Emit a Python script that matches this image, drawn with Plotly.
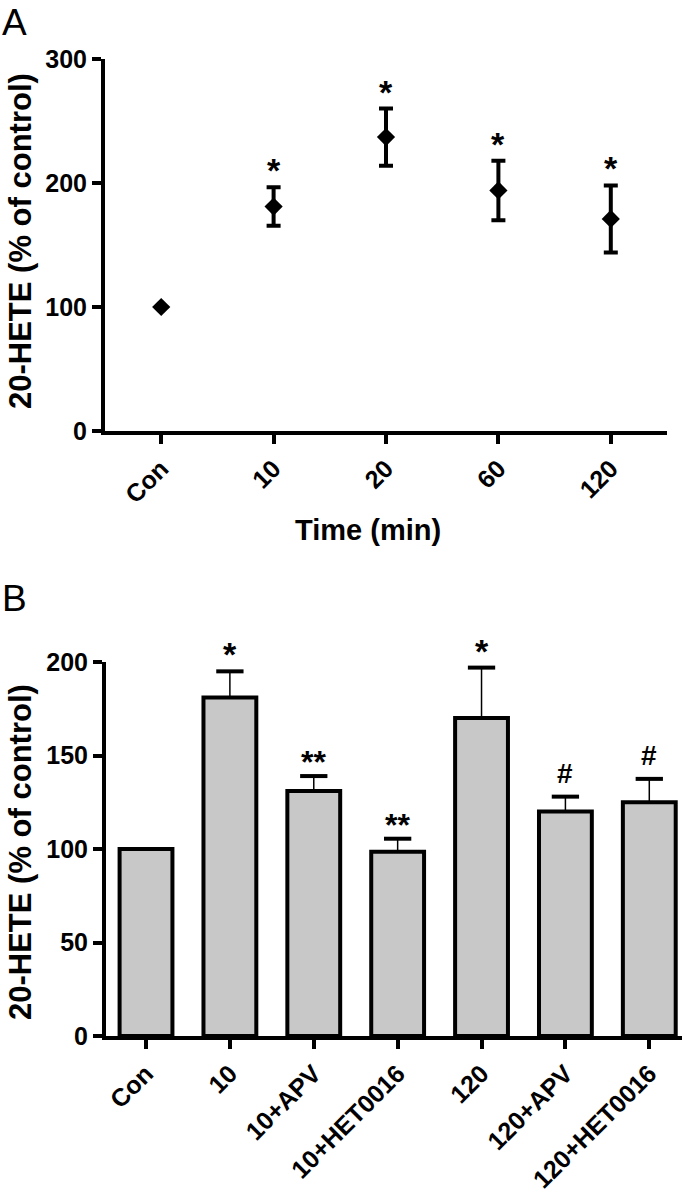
import plotly.graph_objects as go

# ---------------- data ----------------
time_labels = ["Con", "10", "20", "60", "120"]
time_mean = [100, 181, 237, 194, 171]
time_sem = [0, 15.5, 23, 24, 27]
time_sig = ["", "*", "*", "*", "*"]

treat_labels = ["Con", "10", "10+APV", "10+HET0016", "120", "120+APV", "120+HET0016"]
treat_mean = [100, 181, 131, 98.5, 170, 120, 125]
treat_sem = [0, 14, 8, 7, 27, 8, 12.5]
treat_sig = ["", "*", "**", "**", "*", "#", "#"]

yticks_a = [0, 100, 200, 300]
yticks_b = [0, 50, 100, 150, 200]

# ---------------- layout helpers ----------------
W, H = 693, 1199
def fx(x):
    return x / W
def fy(y):
    return 1 - y / H

FONT = "Liberation Sans, Arial, Helvetica, sans-serif"
BLACK = "#000000"
GRAY = "#c8c8c8"

fig = go.Figure()

# Panel A: mean +/- SEM
fig.add_trace(go.Scatter(
    x=time_labels, y=time_mean, mode="markers",
    marker=dict(symbol="diamond", size=14, color=BLACK),
    error_y=dict(type="data", array=time_sem, visible=True,
                 color=BLACK, thickness=4, width=7),
    xaxis="x", yaxis="y", showlegend=False, hoverinfo="skip",
))

# Panel B: bars
fig.add_trace(go.Bar(
    x=treat_labels, y=treat_mean, width=0.63,
    marker=dict(color=GRAY, line=dict(color=BLACK, width=4)),
    error_y=dict(type="data", array=treat_sem, arrayminus=[0] * len(treat_sem),
                 visible=True, color=BLACK, thickness=1.5, width=0),
    xaxis="x2", yaxis="y2", showlegend=False, hoverinfo="skip",
))
# thick caps of the one-sided error bars
cap_y = [m + e if e > 0 else None for m, e in zip(treat_mean, treat_sem)]
fig.add_trace(go.Scatter(
    x=treat_labels, y=cap_y, mode="markers",
    marker=dict(symbol="line-ew", size=19.5, color=BLACK,
                line=dict(color=BLACK, width=4)),
    xaxis="x2", yaxis="y2", showlegend=False, hoverinfo="skip",
))

axis_common = dict(
    showline=True, linecolor=BLACK, linewidth=4,
    ticks="outside", ticklen=9, tickwidth=4, tickcolor=BLACK,
    showgrid=False, zeroline=False, automargin=False,
    tickfont=dict(family=FONT, size=25, color=BLACK, weight="bold"),
)

annotations = []
sig_style = {"*": dict(size=34, shift=-4), "**": dict(size=32, shift=-6),
             "#": dict(size=28, shift=6)}

# category index is used as the annotation position (category axis)
for i, (m, e, s) in enumerate(zip(time_mean, time_sem, time_sig)):
    if s:
        st = sig_style[s]
        annotations.append(dict(x=i, y=m + e, xref="x", yref="y", text=s,
                                showarrow=False, yanchor="bottom", yshift=st["shift"],
                                font=dict(family=FONT, size=st["size"], color=BLACK, weight="bold")))
for i, (m, e, s) in enumerate(zip(treat_mean, treat_sem, treat_sig)):
    if s:
        st = sig_style[s]
        annotations.append(dict(x=i, y=m + e, xref="x2", yref="y2", text=s,
                                showarrow=False, yanchor="bottom", yshift=st["shift"],
                                font=dict(family=FONT, size=st["size"], color=BLACK, weight="bold")))

# axis titles and panel labels
title_font = dict(family=FONT, size=31, color=BLACK, weight="bold")
annotations += [
    dict(x=fx(20), y=fy(241), xref="paper", yref="paper", text="20-HETE (% of control)",
         textangle=-90, showarrow=False, font=title_font, xanchor="center", yanchor="middle"),
    dict(x=fx(20), y=fy(852), xref="paper", yref="paper", text="20-HETE (% of control)",
         textangle=-90, showarrow=False, font=title_font, xanchor="center", yanchor="middle"),
    dict(x=fx(368), y=fy(530), xref="paper", yref="paper", text="Time (min)",
         showarrow=False, font=dict(family=FONT, size=29, color=BLACK, weight="bold"),
         xanchor="center", yanchor="middle"),
    dict(x=fx(0), y=1, xref="paper", yref="paper", text="A",
         showarrow=False, font=dict(family=FONT, size=37, color=BLACK),
         xanchor="left", yanchor="top"),
    dict(x=fx(0), y=fy(598), xref="paper", yref="paper", text="B",
         showarrow=False, font=dict(family=FONT, size=37, color=BLACK),
         xanchor="left", yanchor="middle"),
]

fig.update_layout(
    width=W, height=H,
    margin=dict(l=0, r=0, t=0, b=0, autoexpand=False),
    paper_bgcolor="white", plot_bgcolor="white",
    xaxis=dict(axis_common, domain=[fx(105), fx(667)], anchor="y",
               type="category", range=[-0.5, 4.5], tickangle=-45),
    yaxis=dict(axis_common, domain=[fy(431), fy(59)], anchor="x",
               range=[0, 300], tickvals=yticks_a),
    xaxis2=dict(axis_common, domain=[fx(106), fx(682)], anchor="y2",
                type="category", range=[-0.477, 6.39], tickangle=-45),
    yaxis2=dict(axis_common, domain=[fy(1036), fy(662)], anchor="x2",
                range=[0, 200], tickvals=yticks_b),
    annotations=annotations,
    bargap=0.3,
)

# remove the default page margin so the figure fills the window exactly
fig.write_html("out.html", config={"displayModeBar": False},
               post_script="document.body.style.margin='0px';")
